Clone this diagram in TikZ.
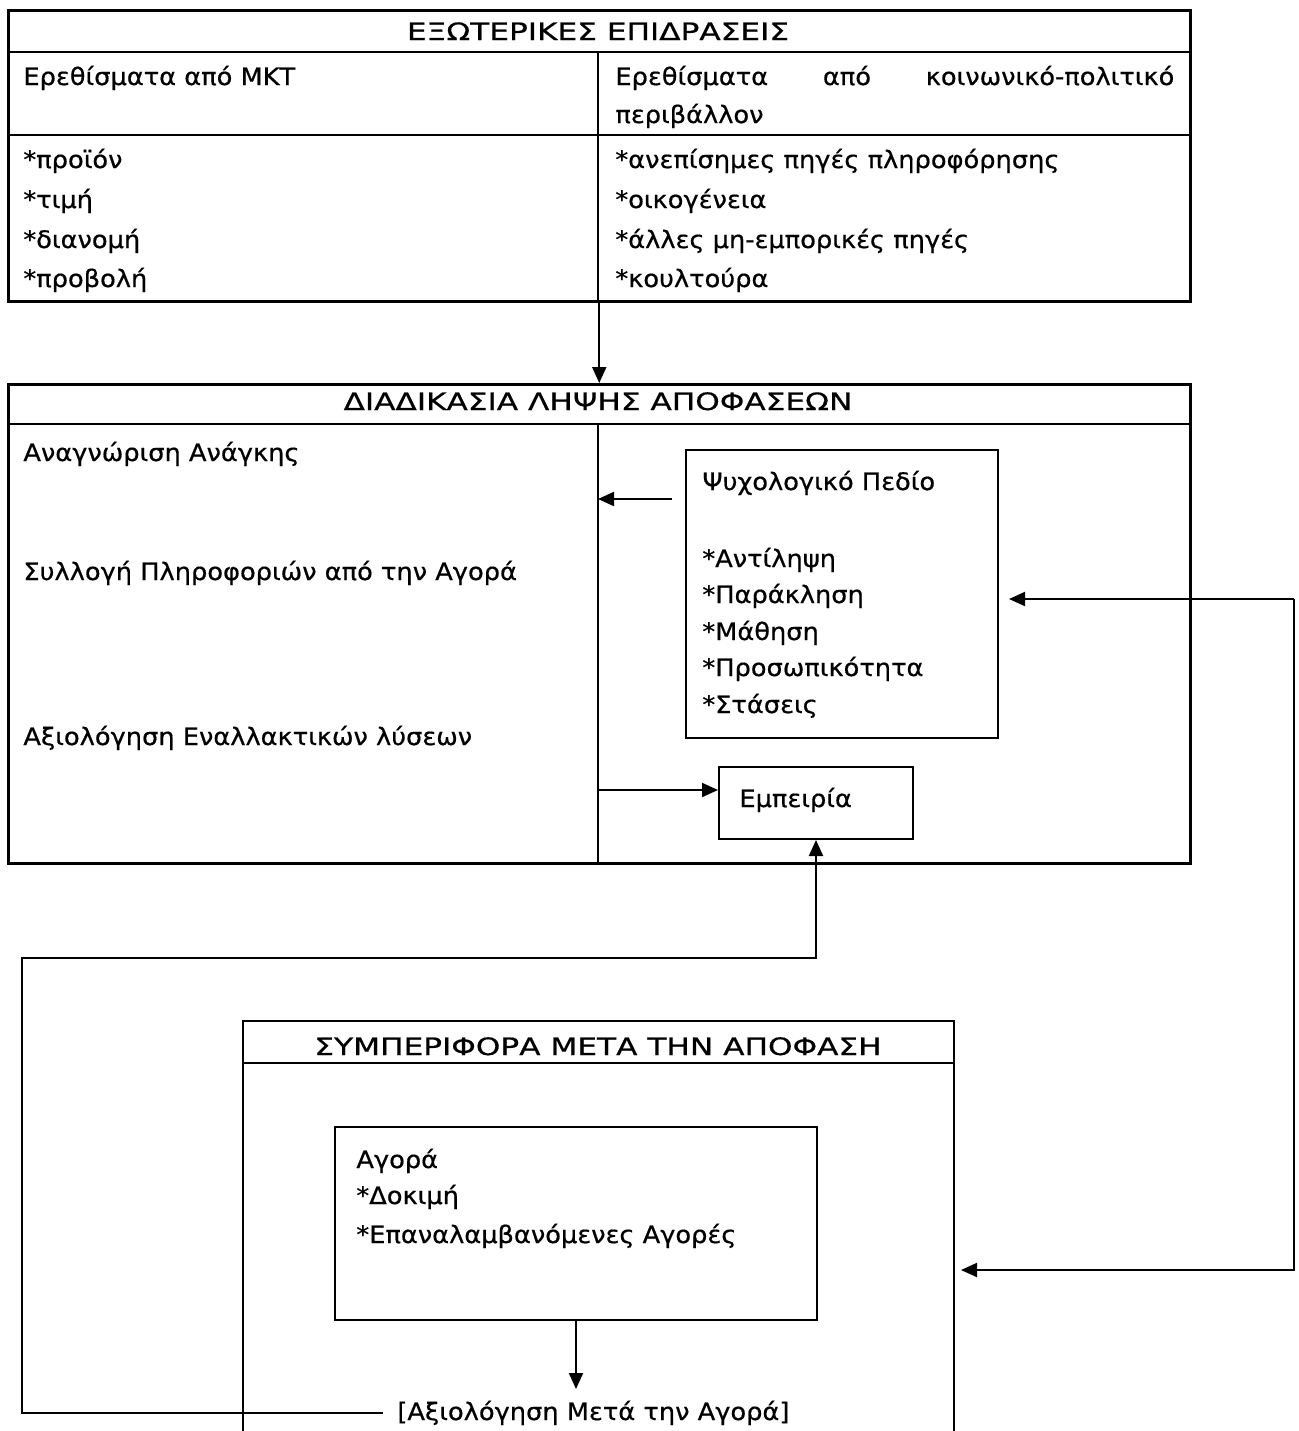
\documentclass[tikz,border=0pt]{standalone}
\usepackage{fontspec}
\setmainfont{DejaVu Sans}
\newfontfamily\bodyfont[FakeStretch=1.07,FakeBold=0.6]{DejaVu Sans}
\newfontfamily\headfont[FakeStretch=1.3,FakeBold=0.6]{DejaVu Sans}
\usetikzlibrary{arrows.meta}

\begin{document}
\begin{tikzpicture}[x=0.5pt,y=-0.5pt,
  frame/.style={draw=black,line width=1.25pt,inner sep=0pt,anchor=north west},
  inner/.style={draw=black,line width=1pt,inner sep=0pt,anchor=north west},
  rule/.style={black,line width=1.25pt},
  arr/.style={-{Triangle[length=8pt,width=7pt]},line width=1pt},
  txt/.style={anchor=base west,inner sep=0pt,font=\bodyfont\fontsize{12pt}{14pt}\selectfont},
  head/.style={anchor=base,inner sep=0pt,font=\headfont\fontsize{12pt}{14pt}\selectfont},
]
\useasboundingbox[fill=white] (0,0) rectangle (1298,1431);

% ---- external influences table ----
\node[frame,minimum width=1182*0.5pt,minimum height=291*0.5pt] (ext) at (7,9) {};
\draw[rule] (7,52) -- (1189,52);
\draw[rule] (7,135) -- (1189,135);
\draw[rule] (598,52) -- (598,300);
\node[head] (extT) at (598,40) {ΕΞΩΤΕΡΙΚΕΣ ΕΠΙΔΡΑΣΕΙΣ};
\node[txt] (mkt) at (23,85) {Ερεθίσματα από ΜΚΤ};
\node[txt] (soc1) at (615,85) {\hbox to 279.5pt{Ερεθίσματα\hfill από\hfill κοινωνικό-πολιτικό}};
\node[txt] (soc2) at (615,123) {περιβάλλον};
\node[txt] (m1) at (23,168) {*προϊόν};
\node[txt] (m2) at (23,208) {*τιμή};
\node[txt] (m3) at (23,248) {*διανομή};
\node[txt] (m4) at (23,287) {*προβολή};
\node[txt] (s1) at (615,168) {*ανεπίσημες πηγές πληροφόρησης};
\node[txt] (s2) at (615,208) {*οικογένεια};
\node[txt] (s3) at (615,248) {*άλλες μη-εμπορικές πηγές};
\node[txt] (s4) at (615,287) {*κουλτούρα};

% ---- decision process ----
\node[frame,minimum width=1182*0.5pt,minimum height=479*0.5pt] (dec) at (7,383) {};
\draw[rule] (7,424) -- (1189,424);
\draw[rule] (598,424) -- (598,862);
\node[head] (decT) at (598,410) {ΔΙΑΔΙΚΑΣΙΑ ΛΗΨΗΣ ΑΠΟΦΑΣΕΩΝ};
\node[txt] (d1) at (23,461) {Αναγνώριση Ανάγκης};
\node[txt] (d2) at (23,580) {Συλλογή Πληροφοριών από την Αγορά};
\node[txt] (d3) at (23,745) {Αξιολόγηση Εναλλακτικών λύσεων};

\node[inner,minimum width=312*0.5pt,minimum height=288*0.5pt] (psy) at (685,449) {};
\node[txt] (psyT) at (702,490) {Ψυχολογικό Πεδίο};
\node[txt] (p1) at (702,567) {*Αντίληψη};
\node[txt] (p2) at (702,603) {*Παράκληση};
\node[txt] (p3) at (702,640) {*Μάθηση};
\node[txt] (p4) at (702,676) {*Προσωπικότητα};
\node[txt] (p5) at (702,713) {*Στάσεις};

\node[inner,minimum width=194*0.5pt,minimum height=72*0.5pt] (exp) at (718,766) {};
\node[txt] (expT) at (739,807) {Εμπειρία};

% ---- post-decision behaviour (open at the bottom) ----
\draw[line width=1.25pt] (243,1431) |- (954,1021) -- (954,1431);
\draw[rule] (243,1063) -- (954,1063);
\node[head] (postT) at (598,1055) {ΣΥΜΠΕΡΙΦΟΡΑ ΜΕΤΑ ΤΗΝ ΑΠΟΦΑΣΗ};
\coordinate (postE) at (954,1270);

\node[inner,minimum width=482*0.5pt,minimum height=193*0.5pt] (buy) at (334,1126) {};
\node[txt] (b0) at (356,1168) {Αγορά};
\node[txt] (b1) at (356,1204) {*Δοκιμή};
\node[txt] (b2) at (356,1243) {*Επαναλαμβανόμενες Αγορές};

\node[txt] (eval) at (397,1420) {[Αξιολόγηση Μετά την Αγορά]};

% ---- connectors ----
\coordinate (dv1) at (598,499);
\coordinate (dv2) at (598,790);
\coordinate (rt) at (1294,599);
\coordinate (evalTop) at (575,1389);

\draw[arr] (ext.south) -- (dec.north);
\draw[arr] ([xshift=-6.5pt]psy.west |- dv1) -- (dv1);
\draw[arr] (dv2) -- (exp.west |- dv2);
\draw[arr] (rt) -- ([xshift=5pt]psy.east |- rt);
\draw[arr] (rt) |- ([xshift=3.5pt]postE);
\draw[arr] (buy.south) -- (buy.south |- evalTop);
\draw[arr] ([xshift=-7pt]eval.west) -| (22,958) -| (exp.south);
\end{tikzpicture}
\end{document}
